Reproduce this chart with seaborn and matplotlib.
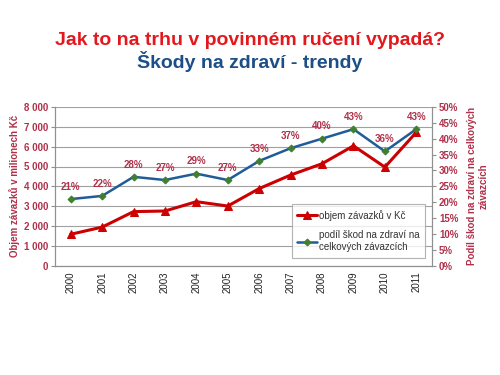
import matplotlib
matplotlib.use("Agg")
import matplotlib.pyplot as plt
import seaborn as sns
import pandas as pd
import numpy as np

years = ["2000", "2001", "2002", "2003", "2004", "2005", "2006", "2007", "2008", "2009", "2010", "2011"]
objem = [1590, 1950, 2730, 2760, 3230, 3010, 3890, 4570, 5140, 6040, 4970, 6720]
podil = [21, 22, 28, 27, 29, 27, 33, 37, 40, 43, 36, 43]
left_ticks = [0, 1000, 2000, 3000, 4000, 5000, 6000, 7000, 8000]
left_labels = ["0", "1 000", "2 000", "3 000", "4 000", "5 000", "6 000", "7 000", "8 000"]
right_ticks = [0, 5, 10, 15, 20, 25, 30, 35, 40, 45, 50]

sns.set_style("white")
plt.rcParams['font.family'] = ['Liberation Sans', 'DejaVu Sans']

RED = "#CC0000"
BLUE = "#1F5C99"
GREEN = "#3F7F2F"
LAB = "#B0304A"

df = pd.DataFrame({"x": np.arange(len(years)), "objem": objem, "podil": podil})

fig = plt.figure(figsize=(5, 3.75), dpi=100)
ax = fig.add_axes([0.11, 0.291, 0.754, 0.424])
ax2 = ax.twinx()

sns.lineplot(data=df, x="x", y="objem", ax=ax, color=RED, lw=2.2, marker="^",
             markersize=6, markeredgecolor=RED, label="objem závazků v Kč", legend=False)
sns.lineplot(data=df, x="x", y="podil", ax=ax2, color=BLUE, lw=1.8, marker="D",
             markersize=3.5, markerfacecolor=GREEN, markeredgecolor=GREEN,
             label="podíl škod na zdraví na\ncelkových závazcích", legend=False)

for i, v in enumerate(podil):
    ax2.text(i, v + 2.3, f"{v}%", ha="center", va="bottom", fontsize=7,
             color=LAB, fontweight="bold")

ax.set_xlim(-0.5, len(years) - 0.5)
ax.set_ylim(0, 8000)
ax2.set_ylim(0, 50)
ax.set_yticks(left_ticks)
ax.set_yticklabels(left_labels)
ax2.set_yticks(right_ticks)
ax2.set_yticklabels([f"{t}%" for t in right_ticks])
ax.set_xticks(np.arange(len(years)))
ax.set_xticklabels(years, rotation=90)
ax.set_xticks(np.arange(-0.5, len(years), 1), minor=True)

ax.yaxis.grid(True, color="#A0A0A0", lw=0.8)
ax.set_axisbelow(True)
for s in ["top"]:
    ax.spines[s].set_visible(False)
    ax2.spines[s].set_visible(False)
for a in (ax, ax2):
    for s in ["left", "right", "bottom"]:
        a.spines[s].set_color("#909090")
        a.spines[s].set_linewidth(0.8)

ax.tick_params(axis="x", which="major", length=0, labelsize=7, pad=4, labelcolor="#222222")
ax.tick_params(axis="x", which="minor", length=3, color="#909090")
ax.tick_params(axis="y", length=3, color="#909090", labelsize=7, labelcolor=LAB, pad=2)
ax2.tick_params(axis="y", length=3, color="#909090", labelsize=7, labelcolor=LAB, pad=2)
for t in ax.get_yticklabels() + ax2.get_yticklabels():
    t.set_fontweight("bold")

ax.set_xlabel("")
ax.set_ylabel("Objem závazků v milionech Kč", fontsize=7, color=LAB, labelpad=3, fontweight="bold")
ax2.set_ylabel("Podíl škod na zdraví na celkových\nzávazcích", fontsize=7, color=LAB,
               rotation=90, labelpad=6, fontweight="bold", va="top", ha="center",
               multialignment="center")

h1, l1 = ax.get_legend_handles_labels()
h2, l2 = ax2.get_legend_handles_labels()
leg = ax.legend(h1 + h2, l1 + l2, loc="lower right", bbox_to_anchor=(0.995, 0.02),
                fontsize=7, frameon=True, fancybox=False, edgecolor="#A0A0A0",
                handlelength=2.0, handletextpad=0.2, labelspacing=1.0, borderpad=0.6)
leg.get_frame().set_linewidth(0.8)
for t in leg.get_texts():
    t.set_color("#333333")

fig.text(0.5, 0.893, "Jak to na trhu v povinném ručení vypadá?", ha="center", va="center",
         fontsize=14, color="#E3181C", fontweight="bold")
fig.text(0.5, 0.835, "Škody na zdraví - trendy", ha="center", va="center",
         fontsize=14, color="#1C4F87", fontweight="bold")

fig.savefig("out.png", dpi=100, facecolor="white")
